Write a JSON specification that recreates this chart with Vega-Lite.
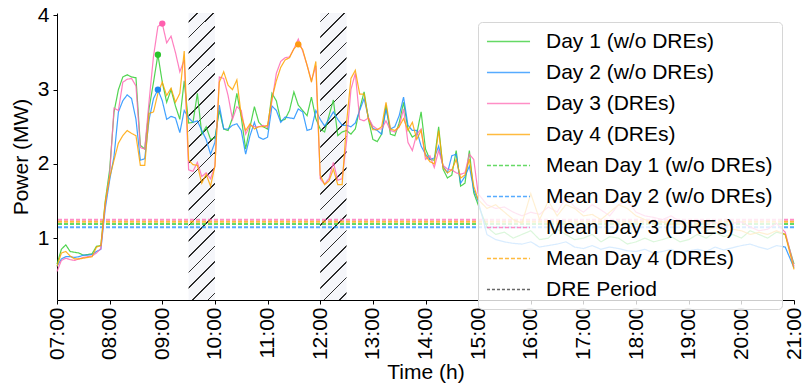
{
  "$schema": "https://vega.github.io/schema/vega-lite/v6.json",
  "width": 737,
  "height": 287,
  "autosize": {"type": "none"},
  "padding": {"left": 57, "top": 13, "right": 8, "bottom": 83},
  "background": "white",
  "config": {
    "font": "Liberation Sans",
    "view": {"stroke": null},
    "axis": {
      "domainColor": "#000", "tickColor": "#000", "labelColor": "#000", "titleColor": "#000",
      "labelFont": "Liberation Sans", "titleFont": "Liberation Sans",
      "labelFontSize": 21, "titleFontSize": 21, "titleFontWeight": "normal",
      "grid": false, "tickSize": 4, "domainWidth": 1, "tickWidth": 1
    }
  },
  "layer": [
    {
      "data": {"values": [{"start": "2000-01-01T09:30", "end": "2000-01-01T10:00"}, {"start": "2000-01-01T12:00", "end": "2000-01-01T12:30"}]},
      "mark": {
        "type": "rect",
        "fill": {
          "gradient": "linear", "x1": 0, "y1": 0, "x2": 0.0992, "y2": 1.0826,
          "stops": [
            {"offset": 0, "color": "#f5f6fa"},
            {"offset": 0.025, "color": "#f5f6fa"}, {"offset": 0.025, "color": "#2b2b2b"}, {"offset": 0.031, "color": "#2b2b2b"}, {"offset": 0.031, "color": "#f5f6fa"},
            {"offset": 0.075, "color": "#f5f6fa"}, {"offset": 0.075, "color": "#2b2b2b"}, {"offset": 0.081, "color": "#2b2b2b"}, {"offset": 0.081, "color": "#f5f6fa"},
            {"offset": 0.125, "color": "#f5f6fa"}, {"offset": 0.125, "color": "#2b2b2b"}, {"offset": 0.131, "color": "#2b2b2b"}, {"offset": 0.131, "color": "#f5f6fa"},
            {"offset": 0.175, "color": "#f5f6fa"}, {"offset": 0.175, "color": "#2b2b2b"}, {"offset": 0.181, "color": "#2b2b2b"}, {"offset": 0.181, "color": "#f5f6fa"},
            {"offset": 0.225, "color": "#f5f6fa"}, {"offset": 0.225, "color": "#2b2b2b"}, {"offset": 0.231, "color": "#2b2b2b"}, {"offset": 0.231, "color": "#f5f6fa"},
            {"offset": 0.275, "color": "#f5f6fa"}, {"offset": 0.275, "color": "#2b2b2b"}, {"offset": 0.281, "color": "#2b2b2b"}, {"offset": 0.281, "color": "#f5f6fa"},
            {"offset": 0.325, "color": "#f5f6fa"}, {"offset": 0.325, "color": "#2b2b2b"}, {"offset": 0.331, "color": "#2b2b2b"}, {"offset": 0.331, "color": "#f5f6fa"},
            {"offset": 0.375, "color": "#f5f6fa"}, {"offset": 0.375, "color": "#2b2b2b"}, {"offset": 0.381, "color": "#2b2b2b"}, {"offset": 0.381, "color": "#f5f6fa"},
            {"offset": 0.425, "color": "#f5f6fa"}, {"offset": 0.425, "color": "#2b2b2b"}, {"offset": 0.431, "color": "#2b2b2b"}, {"offset": 0.431, "color": "#f5f6fa"},
            {"offset": 0.475, "color": "#f5f6fa"}, {"offset": 0.475, "color": "#2b2b2b"}, {"offset": 0.481, "color": "#2b2b2b"}, {"offset": 0.481, "color": "#f5f6fa"},
            {"offset": 0.525, "color": "#f5f6fa"}, {"offset": 0.525, "color": "#2b2b2b"}, {"offset": 0.531, "color": "#2b2b2b"}, {"offset": 0.531, "color": "#f5f6fa"},
            {"offset": 0.575, "color": "#f5f6fa"}, {"offset": 0.575, "color": "#2b2b2b"}, {"offset": 0.581, "color": "#2b2b2b"}, {"offset": 0.581, "color": "#f5f6fa"},
            {"offset": 0.625, "color": "#f5f6fa"}, {"offset": 0.625, "color": "#2b2b2b"}, {"offset": 0.631, "color": "#2b2b2b"}, {"offset": 0.631, "color": "#f5f6fa"},
            {"offset": 0.675, "color": "#f5f6fa"}, {"offset": 0.675, "color": "#2b2b2b"}, {"offset": 0.681, "color": "#2b2b2b"}, {"offset": 0.681, "color": "#f5f6fa"},
            {"offset": 0.725, "color": "#f5f6fa"}, {"offset": 0.725, "color": "#2b2b2b"}, {"offset": 0.731, "color": "#2b2b2b"}, {"offset": 0.731, "color": "#f5f6fa"},
            {"offset": 0.775, "color": "#f5f6fa"}, {"offset": 0.775, "color": "#2b2b2b"}, {"offset": 0.781, "color": "#2b2b2b"}, {"offset": 0.781, "color": "#f5f6fa"},
            {"offset": 0.825, "color": "#f5f6fa"}, {"offset": 0.825, "color": "#2b2b2b"}, {"offset": 0.831, "color": "#2b2b2b"}, {"offset": 0.831, "color": "#f5f6fa"},
            {"offset": 0.875, "color": "#f5f6fa"}, {"offset": 0.875, "color": "#2b2b2b"}, {"offset": 0.881, "color": "#2b2b2b"}, {"offset": 0.881, "color": "#f5f6fa"},
            {"offset": 0.925, "color": "#f5f6fa"}, {"offset": 0.925, "color": "#2b2b2b"}, {"offset": 0.931, "color": "#2b2b2b"}, {"offset": 0.931, "color": "#f5f6fa"},
            {"offset": 0.975, "color": "#f5f6fa"}, {"offset": 0.975, "color": "#2b2b2b"}, {"offset": 0.981, "color": "#2b2b2b"}, {"offset": 0.981, "color": "#f5f6fa"},
            {"offset": 1, "color": "#f5f6fa"}
          ]
        }
      },
      "encoding": {
        "x": {"field": "start", "type": "temporal", "title": "Time (h)"},
        "x2": {"field": "end"}
      }
    },
    {
      "data": {
        "values": [
          {"series": "m1", "mean": 1.189},
          {"series": "m2", "mean": 1.148},
          {"series": "m3", "mean": 1.248},
          {"series": "m4", "mean": 1.221}
        ]
      },
      "mark": {"type": "rule", "strokeWidth": 2, "opacity": 0.75},
      "encoding": {
        "y": {"field": "mean", "type": "quantitative", "title": "Power (MW)"},
        "color": {"field": "series", "type": "nominal"},
        "strokeDash": {"field": "series", "type": "nominal"}
      }
    },
    {
      "data": {"values": [
        {"t": "2000-01-01T07:00", "d1": 0.65, "d2": 0.62, "d3": 0.55, "d4": 0.62},
        {"t": "2000-01-01T07:05", "d1": 0.85, "d2": 0.72, "d3": 0.70, "d4": 0.80},
        {"t": "2000-01-01T07:10", "d1": 0.91, "d2": 0.75, "d3": 0.73, "d4": 0.82},
        {"t": "2000-01-01T07:15", "d1": 0.82, "d2": 0.75, "d3": 0.71, "d4": 0.76},
        {"t": "2000-01-01T07:20", "d1": 0.81, "d2": 0.74, "d3": 0.70, "d4": 0.72},
        {"t": "2000-01-01T07:25", "d1": 0.80, "d2": 0.75, "d3": 0.72, "d4": 0.72},
        {"t": "2000-01-01T07:30", "d1": 0.77, "d2": 0.77, "d3": 0.74, "d4": 0.73},
        {"t": "2000-01-01T07:35", "d1": 0.78, "d2": 0.77, "d3": 0.75, "d4": 0.74},
        {"t": "2000-01-01T07:40", "d1": 0.79, "d2": 0.78, "d3": 0.76, "d4": 0.75},
        {"t": "2000-01-01T07:45", "d1": 0.89, "d2": 0.82, "d3": 0.80, "d4": 0.88},
        {"t": "2000-01-01T07:50", "d1": 0.90, "d2": 0.85, "d3": 0.86, "d4": 0.90},
        {"t": "2000-01-01T07:55", "d1": 1.50, "d2": 1.40, "d3": 1.45, "d4": 1.48},
        {"t": "2000-01-01T08:00", "d1": 1.92, "d2": 1.78, "d3": 1.85, "d4": 1.82},
        {"t": "2000-01-01T08:05", "d1": 2.70, "d2": 2.10, "d3": 2.75, "d4": 2.05},
        {"t": "2000-01-01T08:10", "d1": 3.00, "d2": 2.70, "d3": 2.72, "d4": 2.28},
        {"t": "2000-01-01T08:15", "d1": 3.17, "d2": 2.85, "d3": 3.10, "d4": 2.38},
        {"t": "2000-01-01T08:20", "d1": 3.20, "d2": 2.93, "d3": 3.14, "d4": 2.45},
        {"t": "2000-01-01T08:25", "d1": 3.17, "d2": 2.88, "d3": 3.15, "d4": 2.41},
        {"t": "2000-01-01T08:30", "d1": 3.16, "d2": 2.60, "d3": 3.05, "d4": 2.38},
        {"t": "2000-01-01T08:35", "d1": 2.25, "d2": 2.05, "d3": 2.22, "d4": 1.98},
        {"t": "2000-01-01T08:40", "d1": 2.20, "d2": 2.07, "d3": 2.20, "d4": 1.98},
        {"t": "2000-01-01T08:45", "d1": 2.75, "d2": 2.60, "d3": 2.85, "d4": 2.68},
        {"t": "2000-01-01T08:50", "d1": 3.10, "d2": 2.88, "d3": 3.45, "d4": 2.70},
        {"t": "2000-01-01T08:55", "d1": 3.47, "d2": 3.00, "d3": 3.85, "d4": 2.95},
        {"t": "2000-01-01T09:00", "d1": 3.10, "d2": 2.85, "d3": 3.89, "d4": 3.10},
        {"t": "2000-01-01T09:05", "d1": 2.83, "d2": 2.60, "d3": 3.63, "d4": 2.92},
        {"t": "2000-01-01T09:10", "d1": 3.00, "d2": 2.64, "d3": 3.72, "d4": 3.02},
        {"t": "2000-01-01T09:15", "d1": 2.78, "d2": 2.62, "d3": 3.50, "d4": 2.83},
        {"t": "2000-01-01T09:20", "d1": 2.60, "d2": 2.42, "d3": 3.24, "d4": 2.95},
        {"t": "2000-01-01T09:25", "d1": 3.12, "d2": 2.72, "d3": 3.40, "d4": 3.52},
        {"t": "2000-01-01T09:30", "d1": 2.55, "d2": 2.62, "d3": 1.92, "d4": 2.05},
        {"t": "2000-01-01T09:35", "d1": 2.56, "d2": 2.56, "d3": 1.90, "d4": 1.99},
        {"t": "2000-01-01T09:40", "d1": 2.95, "d2": 2.58, "d3": 2.02, "d4": 1.98},
        {"t": "2000-01-01T09:45", "d1": 2.40, "d2": 2.45, "d3": 1.83, "d4": 1.74},
        {"t": "2000-01-01T09:50", "d1": 2.50, "d2": 2.33, "d3": 1.88, "d4": 1.86},
        {"t": "2000-01-01T09:55", "d1": 2.33, "d2": 2.13, "d3": 1.80, "d4": 1.70},
        {"t": "2000-01-01T10:00", "d1": 2.35, "d2": 2.29, "d3": 1.97, "d4": 1.97},
        {"t": "2000-01-01T10:05", "d1": 2.72, "d2": 2.79, "d3": 3.17, "d4": 3.10},
        {"t": "2000-01-01T10:10", "d1": 2.47, "d2": 2.47, "d3": 3.15, "d4": 3.24},
        {"t": "2000-01-01T10:15", "d1": 2.45, "d2": 2.47, "d3": 2.92, "d4": 3.06},
        {"t": "2000-01-01T10:20", "d1": 2.62, "d2": 2.52, "d3": 2.60, "d4": 3.00},
        {"t": "2000-01-01T10:25", "d1": 2.95, "d2": 2.54, "d3": 2.77, "d4": 3.13},
        {"t": "2000-01-01T10:30", "d1": 2.63, "d2": 2.45, "d3": 2.72, "d4": 2.65},
        {"t": "2000-01-01T10:35", "d1": 2.20, "d2": 2.13, "d3": 2.40, "d4": 2.45},
        {"t": "2000-01-01T10:40", "d1": 2.50, "d2": 2.38, "d3": 2.52, "d4": 2.54},
        {"t": "2000-01-01T10:45", "d1": 2.77, "d2": 2.56, "d3": 2.50, "d4": 2.47},
        {"t": "2000-01-01T10:50", "d1": 2.56, "d2": 2.36, "d3": 2.50, "d4": 2.50},
        {"t": "2000-01-01T10:55", "d1": 2.50, "d2": 2.33, "d3": 2.52, "d4": 2.50},
        {"t": "2000-01-01T11:00", "d1": 2.47, "d2": 2.36, "d3": 2.49, "d4": 2.52},
        {"t": "2000-01-01T11:05", "d1": 2.95, "d2": 2.78, "d3": 2.85, "d4": 2.88},
        {"t": "2000-01-01T11:10", "d1": 2.85, "d2": 2.72, "d3": 3.22, "d4": 3.12},
        {"t": "2000-01-01T11:15", "d1": 2.58, "d2": 2.56, "d3": 3.38, "d4": 3.30},
        {"t": "2000-01-01T11:20", "d1": 2.60, "d2": 2.63, "d3": 3.43, "d4": 3.40},
        {"t": "2000-01-01T11:25", "d1": 2.72, "d2": 2.62, "d3": 3.44, "d4": 3.43},
        {"t": "2000-01-01T11:30", "d1": 2.97, "d2": 2.61, "d3": 3.55, "d4": 3.55},
        {"t": "2000-01-01T11:35", "d1": 2.79, "d2": 2.74, "d3": 3.68, "d4": 3.61},
        {"t": "2000-01-01T11:40", "d1": 2.72, "d2": 2.70, "d3": 3.52, "d4": 3.54},
        {"t": "2000-01-01T11:45", "d1": 2.65, "d2": 2.45, "d3": 3.33, "d4": 3.33},
        {"t": "2000-01-01T11:50", "d1": 2.90, "d2": 2.47, "d3": 3.12, "d4": 3.10},
        {"t": "2000-01-01T11:55", "d1": 2.61, "d2": 2.72, "d3": 3.32, "d4": 3.38},
        {"t": "2000-01-01T12:00", "d1": 2.47, "d2": 2.60, "d3": 1.80, "d4": 1.85},
        {"t": "2000-01-01T12:05", "d1": 2.43, "d2": 2.51, "d3": 1.73, "d4": 1.72},
        {"t": "2000-01-01T12:10", "d1": 2.65, "d2": 2.60, "d3": 1.80, "d4": 1.77},
        {"t": "2000-01-01T12:15", "d1": 2.86, "d2": 2.70, "d3": 2.02, "d4": 1.93},
        {"t": "2000-01-01T12:20", "d1": 2.38, "d2": 2.60, "d3": 1.78, "d4": 1.72},
        {"t": "2000-01-01T12:25", "d1": 2.43, "d2": 2.52, "d3": 1.80, "d4": 1.72},
        {"t": "2000-01-01T12:30", "d1": 2.45, "d2": 2.52, "d3": 2.30, "d4": 2.55},
        {"t": "2000-01-01T12:35", "d1": 2.40, "d2": 2.50, "d3": 3.00, "d4": 3.15},
        {"t": "2000-01-01T12:40", "d1": 2.47, "d2": 2.55, "d3": 3.22, "d4": 3.26},
        {"t": "2000-01-01T12:45", "d1": 2.74, "d2": 2.72, "d3": 2.60, "d4": 2.94},
        {"t": "2000-01-01T12:50", "d1": 2.97, "d2": 2.88, "d3": 2.58, "d4": 2.94},
        {"t": "2000-01-01T12:55", "d1": 2.60, "d2": 2.62, "d3": 2.62, "d4": 2.60},
        {"t": "2000-01-01T13:00", "d1": 2.33, "d2": 2.48, "d3": 2.51, "d4": 2.46},
        {"t": "2000-01-01T13:05", "d1": 2.30, "d2": 2.45, "d3": 2.47, "d4": 2.46},
        {"t": "2000-01-01T13:10", "d1": 2.40, "d2": 2.40, "d3": 2.47, "d4": 2.50},
        {"t": "2000-01-01T13:15", "d1": 2.79, "d2": 2.74, "d3": 2.58, "d4": 2.83},
        {"t": "2000-01-01T13:20", "d1": 2.40, "d2": 2.47, "d3": 2.45, "d4": 2.47},
        {"t": "2000-01-01T13:25", "d1": 2.38, "d2": 2.50, "d3": 2.43, "d4": 2.45},
        {"t": "2000-01-01T13:30", "d1": 2.55, "d2": 2.65, "d3": 2.50, "d4": 2.50},
        {"t": "2000-01-01T13:35", "d1": 2.83, "d2": 2.90, "d3": 2.74, "d4": 2.61},
        {"t": "2000-01-01T13:40", "d1": 2.47, "d2": 2.52, "d3": 2.29, "d4": 2.45},
        {"t": "2000-01-01T13:45", "d1": 2.36, "d2": 2.45, "d3": 2.18, "d4": 2.56},
        {"t": "2000-01-01T13:50", "d1": 2.40, "d2": 2.45, "d3": 2.40, "d4": 2.33},
        {"t": "2000-01-01T13:55", "d1": 2.70, "d2": 2.24, "d3": 2.47, "d4": 2.45},
        {"t": "2000-01-01T14:00", "d1": 2.20, "d2": 2.13, "d3": 2.06, "d4": 2.11},
        {"t": "2000-01-01T14:05", "d1": 2.06, "d2": 2.06, "d3": 2.11, "d4": 2.03},
        {"t": "2000-01-01T14:10", "d1": 2.05, "d2": 2.08, "d3": 1.95, "d4": 2.00},
        {"t": "2000-01-01T14:15", "d1": 2.50, "d2": 2.24, "d3": 2.18, "d4": 2.45},
        {"t": "2000-01-01T14:20", "d1": 1.93, "d2": 1.97, "d3": 1.98, "d4": 1.95},
        {"t": "2000-01-01T14:25", "d1": 1.81, "d2": 1.88, "d3": 1.93, "d4": 1.88},
        {"t": "2000-01-01T14:30", "d1": 1.85, "d2": 2.11, "d3": 1.92, "d4": 1.92},
        {"t": "2000-01-01T14:35", "d1": 2.18, "d2": 2.13, "d3": 1.88, "d4": 2.06},
        {"t": "2000-01-01T14:40", "d1": 1.70, "d2": 1.74, "d3": 1.86, "d4": 1.81},
        {"t": "2000-01-01T14:45", "d1": 1.74, "d2": 1.83, "d3": 1.88, "d4": 1.85},
        {"t": "2000-01-01T14:50", "d1": 2.18, "d2": 1.97, "d3": 2.13, "d4": 2.06},
        {"t": "2000-01-01T14:55", "d1": 1.61, "d2": 1.65, "d3": 2.06, "d4": 1.70},
        {"t": "2000-01-01T15:00", "d1": 1.45, "d2": 1.50, "d3": 1.60, "d4": 1.52},
        {"t": "2000-01-01T15:10", "d1": 1.15, "d2": 1.05, "d3": 1.45, "d4": 1.40},
        {"t": "2000-01-01T15:20", "d1": 1.05, "d2": 0.98, "d3": 1.40, "d4": 1.45},
        {"t": "2000-01-01T15:30", "d1": 1.08, "d2": 0.95, "d3": 1.42, "d4": 1.35},
        {"t": "2000-01-01T15:40", "d1": 1.00, "d2": 0.93, "d3": 1.35, "d4": 1.25},
        {"t": "2000-01-01T15:50", "d1": 1.05, "d2": 0.92, "d3": 1.30, "d4": 1.20},
        {"t": "2000-01-01T16:00", "d1": 1.10, "d2": 0.95, "d3": 1.35, "d4": 1.60},
        {"t": "2000-01-01T16:10", "d1": 0.98, "d2": 0.88, "d3": 1.32, "d4": 1.25},
        {"t": "2000-01-01T16:20", "d1": 1.00, "d2": 0.90, "d3": 1.42, "d4": 1.50},
        {"t": "2000-01-01T16:30", "d1": 1.12, "d2": 0.92, "d3": 1.35, "d4": 1.30},
        {"t": "2000-01-01T16:40", "d1": 1.05, "d2": 0.95, "d3": 1.55, "d4": 1.45},
        {"t": "2000-01-01T16:50", "d1": 0.98, "d2": 0.88, "d3": 1.42, "d4": 1.40},
        {"t": "2000-01-01T17:00", "d1": 1.00, "d2": 0.86, "d3": 1.35, "d4": 1.30},
        {"t": "2000-01-01T17:10", "d1": 1.05, "d2": 0.90, "d3": 1.45, "d4": 1.32},
        {"t": "2000-01-01T17:20", "d1": 0.95, "d2": 0.85, "d3": 1.38, "d4": 1.25},
        {"t": "2000-01-01T17:30", "d1": 1.02, "d2": 0.88, "d3": 1.30, "d4": 1.35},
        {"t": "2000-01-01T17:40", "d1": 1.00, "d2": 0.86, "d3": 1.45, "d4": 1.45},
        {"t": "2000-01-01T17:50", "d1": 0.92, "d2": 0.83, "d3": 1.50, "d4": 1.40},
        {"t": "2000-01-01T18:00", "d1": 0.95, "d2": 0.82, "d3": 1.35, "d4": 1.30},
        {"t": "2000-01-01T18:10", "d1": 1.00, "d2": 0.85, "d3": 1.30, "d4": 1.25},
        {"t": "2000-01-01T18:20", "d1": 0.95, "d2": 0.80, "d3": 1.28, "d4": 1.20},
        {"t": "2000-01-01T18:30", "d1": 0.98, "d2": 0.82, "d3": 1.25, "d4": 1.22},
        {"t": "2000-01-01T18:40", "d1": 1.02, "d2": 0.85, "d3": 1.30, "d4": 1.18},
        {"t": "2000-01-01T18:50", "d1": 0.95, "d2": 0.80, "d3": 1.22, "d4": 1.20},
        {"t": "2000-01-01T19:00", "d1": 0.98, "d2": 0.83, "d3": 1.20, "d4": 1.15},
        {"t": "2000-01-01T19:10", "d1": 1.05, "d2": 0.85, "d3": 1.25, "d4": 1.18},
        {"t": "2000-01-01T19:20", "d1": 1.00, "d2": 0.82, "d3": 1.18, "d4": 1.10},
        {"t": "2000-01-01T19:30", "d1": 1.08, "d2": 0.88, "d3": 1.22, "d4": 1.15},
        {"t": "2000-01-01T19:40", "d1": 1.02, "d2": 0.84, "d3": 1.15, "d4": 1.08},
        {"t": "2000-01-01T19:50", "d1": 1.05, "d2": 0.87, "d3": 1.20, "d4": 1.12},
        {"t": "2000-01-01T20:00", "d1": 1.00, "d2": 0.90, "d3": 1.22, "d4": 1.10},
        {"t": "2000-01-01T20:10", "d1": 1.10, "d2": 0.92, "d3": 1.15, "d4": 1.05},
        {"t": "2000-01-01T20:20", "d1": 1.05, "d2": 0.88, "d3": 1.10, "d4": 1.08},
        {"t": "2000-01-01T20:30", "d1": 1.00, "d2": 0.85, "d3": 1.12, "d4": 1.05},
        {"t": "2000-01-01T20:40", "d1": 1.08, "d2": 0.90, "d3": 1.20, "d4": 1.10},
        {"t": "2000-01-01T20:50", "d1": 1.05, "d2": 0.88, "d3": 1.08, "d4": 1.05},
        {"t": "2000-01-01T21:00", "d1": 0.65, "d2": 0.60, "d3": 0.62, "d4": 0.58}
      ]},
      "transform": [
        {"fold": ["d1", "d2", "d3", "d4"], "as": ["series", "power"]}
      ],
      "mark": {"type": "line", "strokeWidth": 1.2, "opacity": 0.85},
      "encoding": {
        "x": {
          "field": "t", "type": "temporal", "title": "Time (h)",
          "scale": {"domain": ["2000-01-01T07:00", "2000-01-01T21:00"]},
          "axis": {"format": "%H:%M", "labelAngle": -90, "tickCount": 14, "labelPadding": 3, "titlePadding": 2, "labelFlush": false, "labelOverlap": false}
        },
        "y": {
          "field": "power", "type": "quantitative", "title": "Power (MW)",
          "scale": {"domain": [0.167, 4.032], "nice": false, "zero": false},
          "axis": {"values": [1, 2, 3, 4], "format": "d", "labelPadding": 4, "titlePadding": 6}
        },
        "color": {
          "field": "series", "type": "nominal",
          "scale": {
            "domain": ["d1", "d2", "d3", "d4", "m1", "m2", "m3", "m4", "dre"],
            "range": ["#32cd32", "#1e90ff", "#ff69b4", "#ffa500", "#32cd32", "#1e90ff", "#ff69b4", "#ffa500", "#333333"]
          },
          "legend": {
            "title": null, "orient": "none", "legendX": 421, "legendY": 9,
            "fillColor": "rgba(255,255,255,0.8)", "strokeColor": "#d6d6d6", "cornerRadius": 4, "padding": 9,
            "labelFont": "Liberation Sans", "labelFontSize": 21, "labelColor": "#000", "labelLimit": 320,
            "symbolType": "M-2.87,0L2.87,0", "symbolSize": 225, "symbolStrokeWidth": 1.5,
            "symbolOffset": 11, "labelOffset": 27, "rowPadding": 9,
            "labelExpr": "datum.value == 'd1' ? 'Day 1 (w/o DREs)' : datum.value == 'd2' ? 'Day 2 (w/o DREs)' : datum.value == 'd3' ? 'Day 3 (DREs)' : datum.value == 'd4' ? 'Day 4 (DREs)' : datum.value == 'm1' ? 'Mean Day 1 (w/o DREs)' : datum.value == 'm2' ? 'Mean Day 2 (w/o DREs)' : datum.value == 'm3' ? 'Mean Day 3 (DREs)' : datum.value == 'm4' ? 'Mean Day 4 (DREs)' : 'DRE Period'"
          }
        },
        "strokeDash": {
          "field": "series", "type": "nominal",
          "scale": {
            "domain": ["d1", "d2", "d3", "d4", "m1", "m2", "m3", "m4", "dre"],
            "range": [[1, 0], [1, 0], [1, 0], [1, 0], [4, 2], [4, 2], [4, 2], [4, 2], [3, 2]]
          }
        }
      }
    },
    {
      "data": {
        "values": [
          {"t": "2000-01-01T08:55", "power": 3.47, "series": "d1"},
          {"t": "2000-01-01T08:55", "power": 3.00, "series": "d2"},
          {"t": "2000-01-01T09:00", "power": 3.89, "series": "d3"},
          {"t": "2000-01-01T11:35", "power": 3.61, "series": "d4"}
        ]
      },
      "mark": {"type": "circle", "size": 40, "opacity": 1},
      "encoding": {
        "x": {"field": "t", "type": "temporal", "title": "Time (h)"},
        "y": {"field": "power", "type": "quantitative", "title": "Power (MW)"},
        "fill": {
          "field": "series", "type": "nominal", "legend": null,
          "scale": {"domain": ["d1", "d2", "d3", "d4"], "range": ["#2cc42c", "#1e88f0", "#ff5fae", "#ff9a10"]}
        }
      }
    }
  ]
}
